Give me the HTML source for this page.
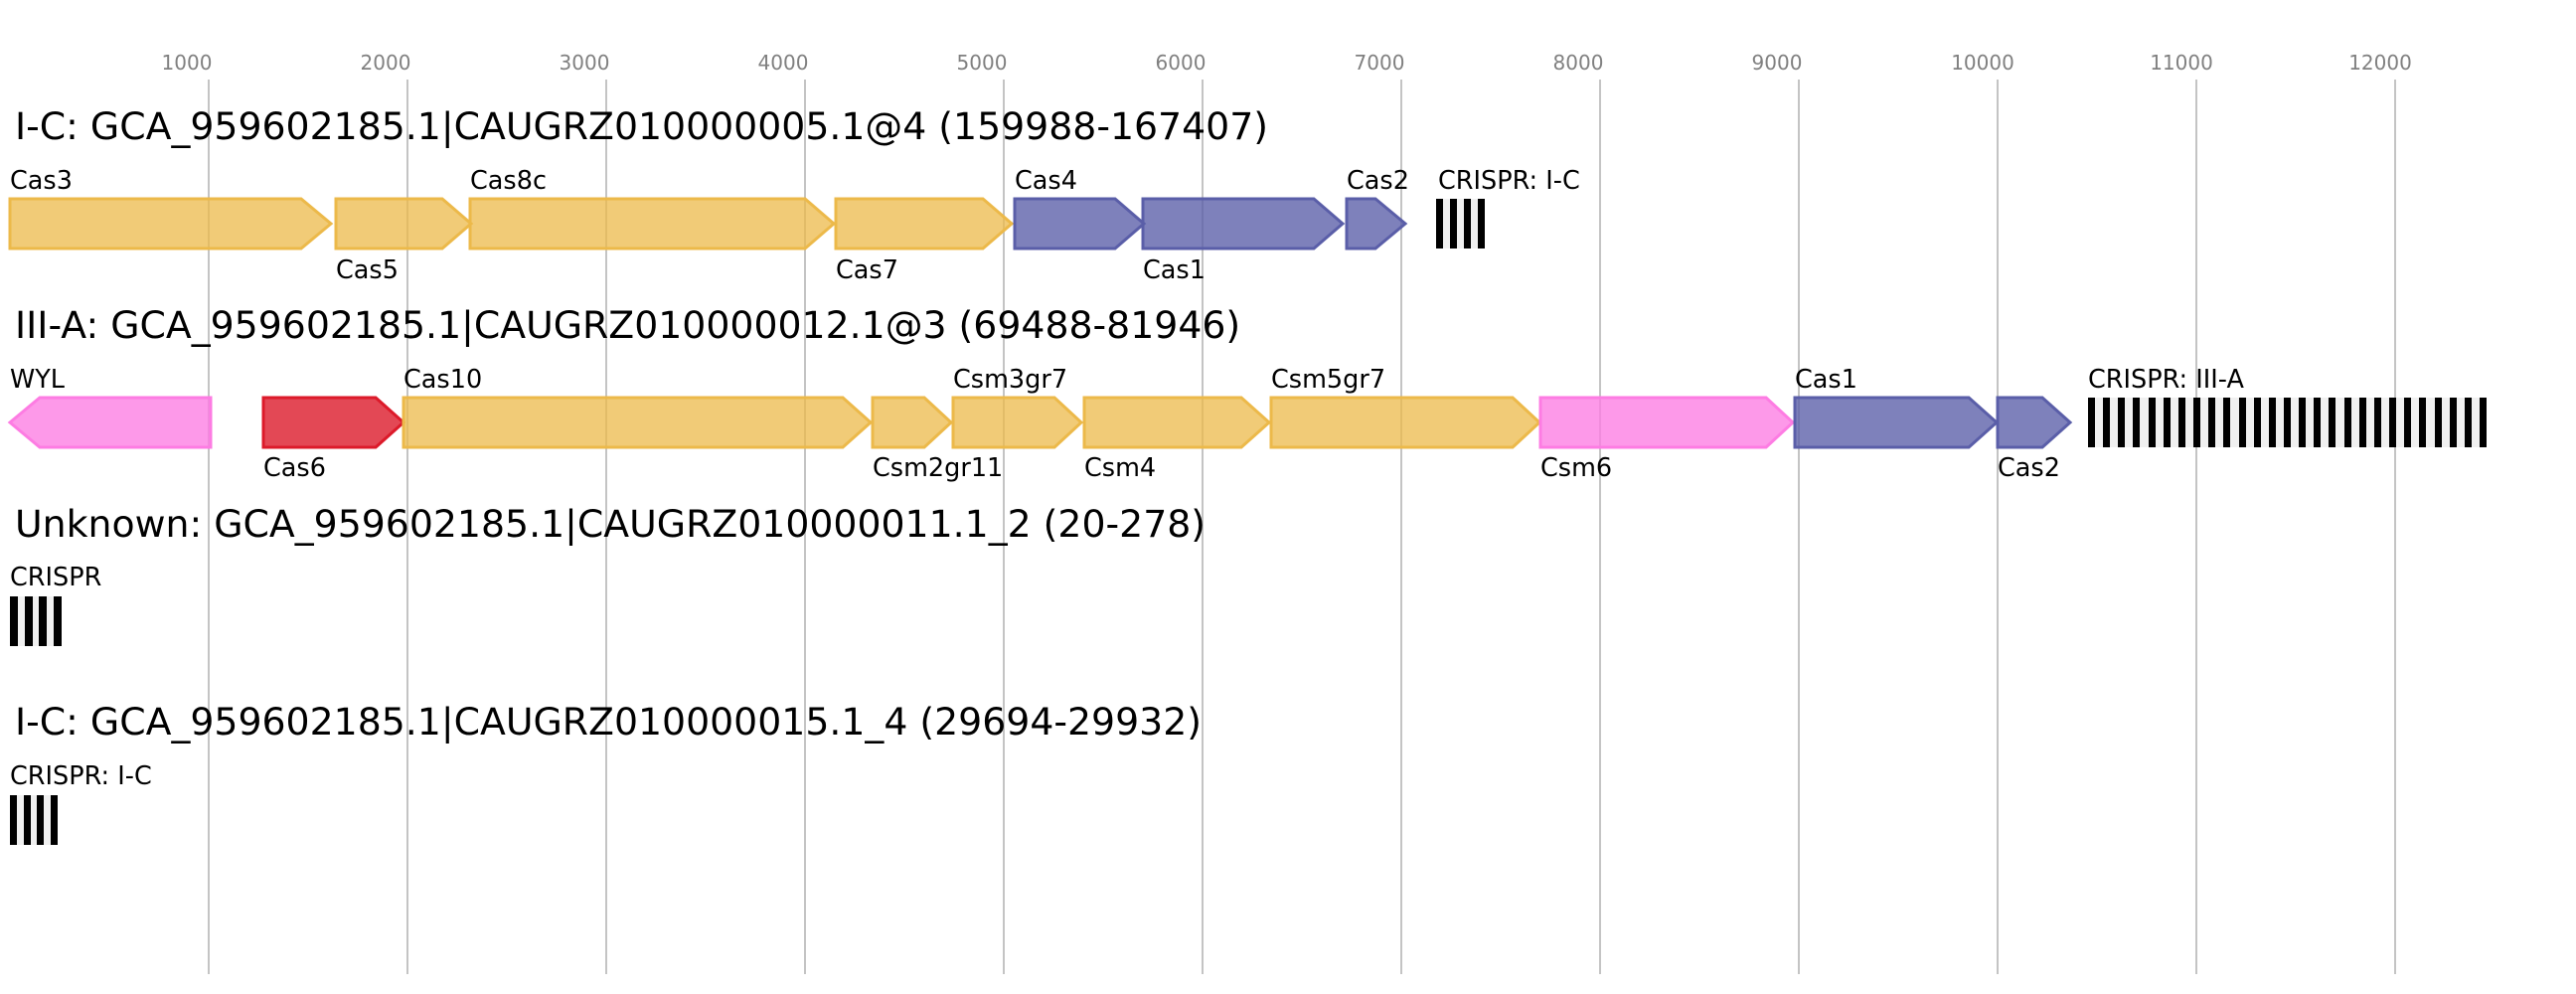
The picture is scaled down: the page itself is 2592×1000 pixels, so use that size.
<!DOCTYPE html>
<html><head><meta charset="utf-8"><style>
html,body{margin:0;padding:0;background:#fff;}
svg{display:block;font-family:"DejaVu Sans","Liberation Sans",sans-serif;}
</style></head><body>
<svg width="2592" height="1000" viewBox="0 0 2592 1000" xmlns="http://www.w3.org/2000/svg">
<g stroke="#c4c4c4" stroke-width="2">
<line x1="210" y1="80" x2="210" y2="980"/><line x1="410" y1="80" x2="410" y2="980"/>
<line x1="610" y1="80" x2="610" y2="980"/><line x1="810" y1="80" x2="810" y2="980"/>
<line x1="1010" y1="80" x2="1010" y2="980"/><line x1="1210" y1="80" x2="1210" y2="980"/>
<line x1="1410" y1="80" x2="1410" y2="980"/><line x1="1610" y1="80" x2="1610" y2="980"/>
<line x1="1810" y1="80" x2="1810" y2="980"/><line x1="2010" y1="80" x2="2010" y2="980"/>
<line x1="2210" y1="80" x2="2210" y2="980"/><line x1="2410" y1="80" x2="2410" y2="980"/>
</g>
<g fill="#808080" font-size="20" text-anchor="middle">
<text x="188" y="70">1000</text><text x="388" y="70">2000</text><text x="588" y="70">3000</text>
<text x="788" y="70">4000</text><text x="988" y="70">5000</text><text x="1188" y="70">6000</text>
<text x="1388" y="70">7000</text><text x="1588" y="70">8000</text><text x="1788" y="70">9000</text>
<text x="1995" y="70">10000</text><text x="2195" y="70">11000</text><text x="2395" y="70">12000</text>
</g>
<g fill="#000" font-size="37.8">
<text x="15" y="140">I-C: GCA_959602185.1|CAUGRZ010000005.1@4 (159988-167407)</text>
<text x="15" y="340">III-A: GCA_959602185.1|CAUGRZ010000012.1@3 (69488-81946)</text>
<text x="15" y="540">Unknown: GCA_959602185.1|CAUGRZ010000011.1_2 (20-278)</text>
<text x="15" y="739">I-C: GCA_959602185.1|CAUGRZ010000015.1_4 (29694-29932)</text>
</g>
<g stroke-width="3">
<g fill="rgba(236,185,74,0.75)" stroke="#ecb94a">
<polygon points="10,200 303,200 333,225 303,250 10,250"/>
<polygon points="338,200 445,200 474,225 445,250 338,250"/>
<polygon points="473,200 810,200 839,225 810,250 473,250"/>
<polygon points="841,200 989,200 1018,225 989,250 841,250"/>
</g>
<g fill="rgba(90,94,168,0.78)" stroke="#5a5ea8">
<polygon points="1021,200 1122,200 1151,225 1122,250 1021,250"/>
<polygon points="1150,200 1322,200 1351,225 1322,250 1150,250"/>
<polygon points="1355,200 1384,200 1414,225 1384,250 1355,250"/>
</g>
<polygon fill="rgba(253,124,227,0.78)" stroke="#fd7ce3" points="10,425 40,400 212,400 212,450 40,450"/>
<polygon fill="rgba(220,26,42,0.8)" stroke="#dc1a2a" points="265,400 378,400 406,425 378,450 265,450"/>
<g fill="rgba(236,185,74,0.75)" stroke="#ecb94a">
<polygon points="406,400 848,400 876,425 848,450 406,450"/>
<polygon points="878,400 930,400 957,425 930,450 878,450"/>
<polygon points="959,400 1061,400 1088,425 1061,450 959,450"/>
<polygon points="1091,400 1249,400 1277,425 1249,450 1091,450"/>
<polygon points="1279,400 1522,400 1549,425 1522,450 1279,450"/>
</g>
<polygon fill="rgba(253,124,227,0.78)" stroke="#fd7ce3" points="1550,400 1777,400 1804,425 1777,450 1550,450"/>
<g fill="rgba(90,94,168,0.78)" stroke="#5a5ea8">
<polygon points="1806,400 1981,400 2009,425 1981,450 1806,450"/>
<polygon points="2010,400 2055,400 2083,425 2055,450 2010,450"/>
</g>
</g>
<rect x="1445" y="200" width="49" height="50" fill="#f0f0f0"/>
<g fill="#000">
<rect x="1445" y="200" width="7" height="50"/><rect x="1459" y="200" width="7" height="50"/>
<rect x="1473" y="200" width="7" height="50"/><rect x="1487" y="200" width="7" height="50"/>
</g>
<rect x="2101" y="400" width="401" height="50" fill="#f0f0f0"/>
<g fill="#000">
<rect x="2101" y="400" width="7" height="50"/><rect x="2116" y="400" width="7" height="50"/>
<rect x="2131" y="400" width="7" height="50"/><rect x="2146" y="400" width="7" height="50"/>
<rect x="2162" y="400" width="7" height="50"/><rect x="2177" y="400" width="7" height="50"/>
<rect x="2192" y="400" width="7" height="50"/><rect x="2207" y="400" width="7" height="50"/>
<rect x="2222" y="400" width="7" height="50"/><rect x="2237" y="400" width="7" height="50"/>
<rect x="2253" y="400" width="7" height="50"/><rect x="2268" y="400" width="7" height="50"/>
<rect x="2283" y="400" width="7" height="50"/><rect x="2298" y="400" width="7" height="50"/>
<rect x="2313" y="400" width="7" height="50"/><rect x="2328" y="400" width="7" height="50"/>
<rect x="2343" y="400" width="7" height="50"/><rect x="2359" y="400" width="7" height="50"/>
<rect x="2374" y="400" width="7" height="50"/><rect x="2389" y="400" width="7" height="50"/>
<rect x="2404" y="400" width="7" height="50"/><rect x="2419" y="400" width="7" height="50"/>
<rect x="2434" y="400" width="7" height="50"/><rect x="2450" y="400" width="7" height="50"/>
<rect x="2465" y="400" width="7" height="50"/><rect x="2480" y="400" width="7" height="50"/>
<rect x="2495" y="400" width="7" height="50"/>
</g>
<rect x="10" y="600" width="52" height="50" fill="#f0f0f0"/>
<g fill="#000">
<rect x="10" y="600" width="8" height="50"/><rect x="25" y="600" width="8" height="50"/>
<rect x="39" y="600" width="8" height="50"/><rect x="54" y="600" width="8" height="50"/>
</g>
<rect x="10" y="800" width="48" height="50" fill="#f0f0f0"/>
<g fill="#000">
<rect x="10" y="800" width="7" height="50"/><rect x="24" y="800" width="7" height="50"/>
<rect x="37" y="800" width="7" height="50"/><rect x="51" y="800" width="7" height="50"/>
</g>
<g fill="#000" font-size="25.5">
<text x="10" y="190">Cas3</text><text x="473" y="190">Cas8c</text><text x="1021" y="190">Cas4</text>
<text x="1355" y="190">Cas2</text><text x="1447" y="190">CRISPR: I-C</text>
<text x="338" y="280">Cas5</text><text x="841" y="280">Cas7</text><text x="1150" y="280">Cas1</text>
<text x="10" y="390">WYL</text><text x="406" y="390">Cas10</text><text x="959" y="390">Csm3gr7</text>
<text x="1279" y="390">Csm5gr7</text><text x="1806" y="390">Cas1</text><text x="2101" y="390">CRISPR: III-A</text>
<text x="265" y="479">Cas6</text><text x="878" y="479">Csm2gr11</text><text x="1091" y="479">Csm4</text>
<text x="1550" y="479">Csm6</text><text x="2010" y="479">Cas2</text>
<text x="10" y="589">CRISPR</text>
<text x="10" y="789">CRISPR: I-C</text>
</g>
</svg>
</body></html>
